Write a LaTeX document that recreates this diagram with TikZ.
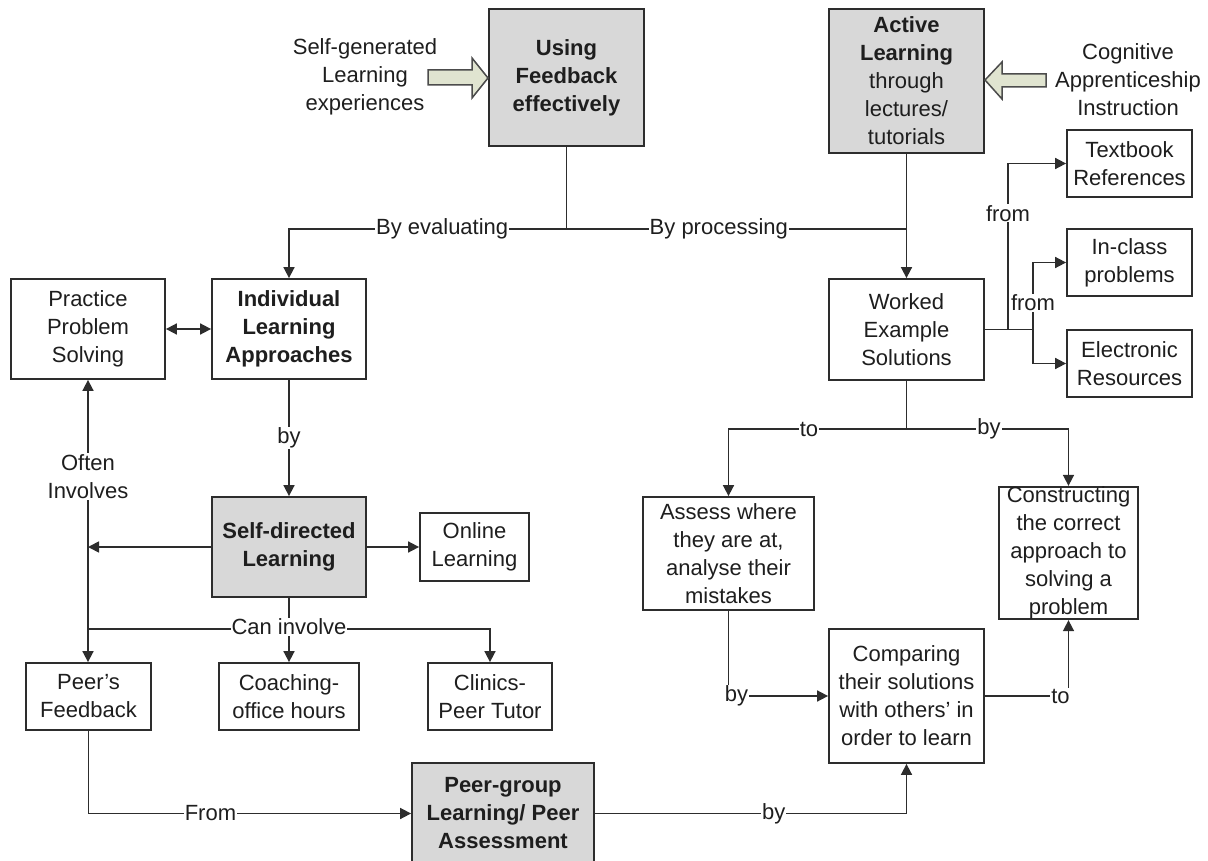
\documentclass[tikz,border=0pt]{standalone}
\usepackage{fontspec}
\setmainfont{Liberation Sans}
\usetikzlibrary{arrows.meta}
\definecolor{boxgray}{RGB}{216,216,216}
\definecolor{linecol}{RGB}{45,45,45}
\definecolor{txtcol}{RGB}{30,30,30}
\definecolor{arrowfill}{RGB}{224,228,208}
\begin{document}
\begin{tikzpicture}[x=1pt,y=-1pt,
  every node/.style={font=\fontsize{22}{28}\selectfont, text=txtcol},
  cbox/.style={draw=linecol, line width=1.8pt, inner sep=0pt, align=center, fill=white},
  graybox/.style={cbox, fill=boxgray},
  conn/.style={draw=linecol, line width=1.7pt},
  arr/.style={conn, -{Triangle[length=11pt,width=11pt]}},
  dbl/.style={conn, {Triangle[length=11pt,width=11pt]}-{Triangle[length=11pt,width=11pt]}},
  lbl/.style={fill=white, inner sep=1pt, align=center},
  freetext/.style={align=center, inner sep=0pt},
  bigarrow/.style={draw=linecol!85, line width=1.5pt, fill=arrowfill, line join=miter}]
\useasboundingbox (0,0) rectangle (1208,861);

% boxes
\node[graybox, minimum width=155pt, minimum height=137pt] (UF) at (566.5,77.5) {\textbf{Using}\\\textbf{Feedback}\\\textbf{effectively}};
\node[graybox, minimum width=155pt, minimum height=144pt] (AL) at (906.5,81) {\textbf{Active}\\\textbf{Learning}\\through\\lectures/\\tutorials};
\node[cbox, minimum width=154pt, minimum height=100pt] (PP) at (88,329) {Practice\\Problem\\Solving};
\node[cbox, minimum width=154pt, minimum height=100pt] (IL) at (289,329) {\textbf{Individual}\\\textbf{Learning}\\\textbf{Approaches}};
\node[cbox, minimum width=155pt, minimum height=101pt] (WE) at (906.5,329.5) {Worked\\Example\\Solutions};
\node[cbox, minimum width=125pt, minimum height=67pt] (TB) at (1129.5,163.5) {Textbook\\References};
\node[cbox, minimum width=125pt, minimum height=67pt] (IC) at (1129.5,262.5) {In-class\\problems};
\node[cbox, minimum width=125pt, minimum height=67pt] (ER) at (1129.5,363.5) {Electronic\\Resources};
\node[graybox, minimum width=154pt, minimum height=100pt] (SD) at (289,547) {\textbf{Self-directed}\\\textbf{Learning}};
\node[cbox, minimum width=109pt, minimum height=68pt] (OL) at (474.5,547) {Online\\Learning};
\node[cbox, minimum width=125pt, minimum height=67pt] (PF) at (88.5,696.5) {Peer’s\\Feedback};
\node[cbox, minimum width=140pt, minimum height=67pt] (CO) at (289,696.5) {Coaching-\\office hours};
\node[cbox, minimum width=124pt, minimum height=67pt] (CL) at (490,696.5) {Clinics-\\Peer Tutor};
\node[graybox, minimum width=182pt, minimum height=101pt] (PG) at (503,813.5) {\textbf{Peer-group}\\\textbf{Learning/ Peer}\\\textbf{Assessment}};
\node[cbox, minimum width=171pt, minimum height=113pt] (AS) at (728.5,553.5) {Assess where\\they are at,\\analyse their\\mistakes};
\node[cbox, minimum width=155pt, minimum height=134pt] (CP) at (906.5,696) {Comparing\\their solutions\\with others’ in\\order to learn};
\node[cbox, minimum width=139pt, minimum height=132pt] (CN) at (1068.5,553) {Constructing\\the correct\\approach to\\solving a\\problem};

% free texts and block arrows
\node[freetext] (SG) at (365,77) {Self-generated\\Learning\\experiences};
\node[freetext] (CA) at (1128,80) {Cognitive\\Apprenticeship\\Instruction};
\draw[bigarrow] (428,70) -- (472,70) -- (472,58) -- (488,78) -- (472,98) -- (472,85) -- (428,85) -- cycle;
\draw[bigarrow] (1046,74) -- (1002,74) -- (1002,62) -- (985,80) -- (1002,99) -- (1002,87) -- (1046,87) -- cycle;

% connectors
\coordinate (j1) at (566.5,229);
\draw[conn] (UF.south) -- (j1);
\draw[arr] (j1) -- node[lbl,pos=0.448]{By evaluating} (j1 -| IL.north) -- (IL.north);
\draw[conn] (j1) -- node[lbl,pos=0.448]{By processing} (j1 -| AL.south);
\draw[arr] (AL.south) -- (WE.north);

\draw[dbl] (PP.east) -- (IL.west);
\draw[arr] (IL.south) -- node[lbl]{by} (SD.north);

\coordinate (j3) at (88,629);
\coordinate (j4) at (289,629);
\draw[arr] (SD.west) -- (SD.west -| PP.south);
\draw[arr] (SD.east) -- (SD.east -| OL.west);
\draw[arr] (j3) -- node[lbl,pos=0.612]{Often\\Involves} (PP.south);
\draw[arr] (j3) -- (j3 |- PF.north);
\draw[conn] (SD.south) -- (j4);
\draw[arr] (j3) -- (j3 -| CL.north) -- (CL.north);
\draw[arr] (j4) -- (CO.north);
\node[lbl] (CI) at (289,627) {Can involve};

\draw[arr] (PF.south) |- node[lbl,pos=0.689]{From} (PG.west);
\draw[arr] (PG.east) -| node[lbl,pos=0.287]{by} (CP.south);

\coordinate (j2) at (906.5,429);
\draw[conn] (WE.south) -- (j2);
\draw[arr] (j2) -- node[lbl,pos=0.548]{to} (j2 -| AS.north) -- (AS.north);
\draw[arr] (j2) -- node[lbl,pos=0.509]{by} (j2 -| CN.north) -- (CN.north);
\draw[arr] (AS.south) |- node[lbl,pos=0.5,xshift=8pt]{by} (CP.west);
\draw[arr] (CP.east) -| node[lbl,pos=0.5,xshift=-8pt]{to} (CN.south);

\coordinate (b1) at (1008,329.5);
\coordinate (b2) at (1033,329.5);
\draw[conn] (WE.east) -- (b2);
\draw[arr] (b1) -- node[lbl,pos=0.70]{from} (b1 |- TB.west) -- (TB.west);
\draw[arr] (b2) -- node[lbl,pos=0.4]{from} (b2 |- IC.west) -- (IC.west);
\draw[arr] (b2) -- (b2 |- ER.west) -- (ER.west);
\end{tikzpicture}
\end{document}
